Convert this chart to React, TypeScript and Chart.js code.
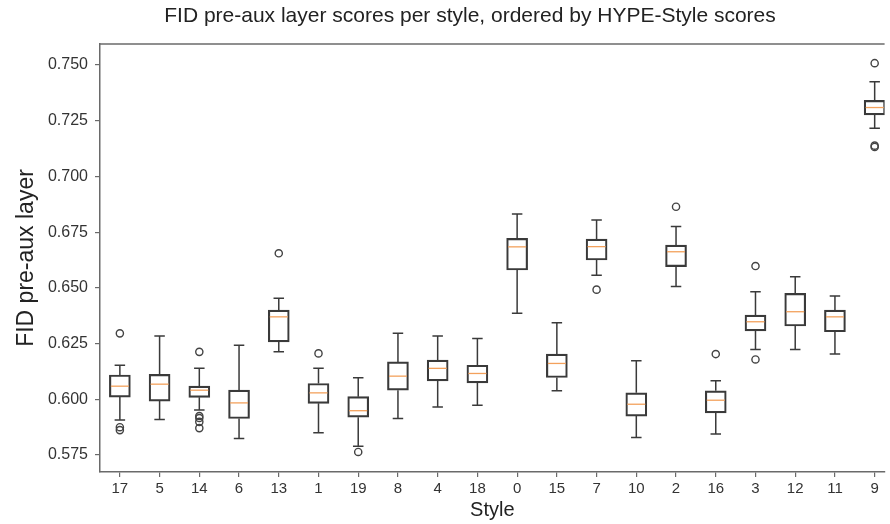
import React, { useEffect, useRef } from 'react';
import { Chart, registerables } from 'chart.js';

Chart.register(...registerables);

const titleText = 'FID pre-aux layer scores per style, ordered by HYPE-Style scores';
const xLabel = 'Style';
const yLabel = 'FID pre-aux layer';

const styles = ['17', '5', '14', '6', '13', '1', '19', '8', '4', '18', '0', '15', '7', '10', '2', '16', '3', '12', '11', '9'];
const whiskerLow = [0.5907, 0.591, 0.5952, 0.5824, 0.6213, 0.585, 0.579, 0.5914, 0.5966, 0.5974, 0.6386, 0.6038, 0.6557, 0.5829, 0.6506, 0.5844, 0.6224, 0.6224, 0.6203, 0.7216];
const q1 = [0.601, 0.5992, 0.6009, 0.5914, 0.6258, 0.5982, 0.592, 0.6041, 0.6083, 0.6074, 0.658, 0.6098, 0.6625, 0.5925, 0.6595, 0.5939, 0.6307, 0.6329, 0.6303, 0.7276];
const median = [0.6059, 0.6068, 0.6041, 0.5984, 0.637, 0.6029, 0.5949, 0.6104, 0.6139, 0.6116, 0.6684, 0.6161, 0.6685, 0.5978, 0.6662, 0.5996, 0.6348, 0.6393, 0.637, 0.7309];
const q3 = [0.6109, 0.6112, 0.6059, 0.6041, 0.64, 0.6071, 0.6012, 0.6168, 0.6176, 0.6153, 0.6722, 0.6203, 0.6719, 0.6029, 0.6692, 0.6038, 0.6378, 0.6475, 0.64, 0.7341];
const whiskerHigh = [0.6153, 0.6284, 0.6139, 0.6243, 0.6453, 0.6139, 0.6097, 0.6296, 0.6284, 0.6273, 0.6831, 0.6343, 0.6804, 0.6173, 0.6775, 0.6083, 0.6483, 0.655, 0.6463, 0.7425];
const outliers: number[][] = [
  [0.6296, 0.5875, 0.5862],
  [],
  [0.6213, 0.5925, 0.5916, 0.5899, 0.5871],
  [],
  [0.6655],
  [0.6206],
  [0.5764],
  [],
  [],
  [],
  [],
  [],
  [0.6492],
  [],
  [0.6864],
  [0.6203],
  [0.6598, 0.6179],
  [],
  [],
  [0.7508, 0.7138, 0.7132],
];
const yTicks = [0.575, 0.6, 0.625, 0.65, 0.675, 0.7, 0.725, 0.75];

const FONT = "'Liberation Sans', Arial, sans-serif";
const EDGE = '#3a3a3a';
const SPINE = '#6a6a6a';
const MEDIAN = '#f3a15c';
const BOX_W = 21;

const boxParts = {
  id: 'boxParts',
  afterDatasetsDraw(chart: any) {
    const { ctx, scales } = chart;
    const x = scales.x;
    const y = scales.y;
    ctx.save();
    styles.forEach((_, i) => {
      const px = x.getPixelForValue(i + 1);
      const capHalf = BOX_W / 4;
      ctx.strokeStyle = EDGE;
      ctx.lineWidth = 1.5;
      ctx.beginPath();
      ctx.moveTo(px, y.getPixelForValue(q3[i]));
      ctx.lineTo(px, y.getPixelForValue(whiskerHigh[i]));
      ctx.moveTo(px, y.getPixelForValue(q1[i]));
      ctx.lineTo(px, y.getPixelForValue(whiskerLow[i]));
      const yh = y.getPixelForValue(whiskerHigh[i]);
      const yl = y.getPixelForValue(whiskerLow[i]);
      ctx.moveTo(px - capHalf, yh);
      ctx.lineTo(px + capHalf, yh);
      ctx.moveTo(px - capHalf, yl);
      ctx.lineTo(px + capHalf, yl);
      ctx.stroke();
      const ym = y.getPixelForValue(median[i]);
      ctx.strokeStyle = MEDIAN;
      ctx.lineWidth = 1.3;
      ctx.beginPath();
      ctx.moveTo(px - BOX_W / 2 + 1.5, ym);
      ctx.lineTo(px + BOX_W / 2 - 1.5, ym);
      ctx.stroke();
    });
    ctx.restore();
  },
  afterDraw(chart: any) {
    const { ctx, chartArea } = chart;
    ctx.save();
    ctx.strokeStyle = SPINE;
    ctx.lineWidth = 1.5;
    ctx.beginPath();
    ctx.moveTo(chartArea.left, chartArea.top);
    ctx.lineTo(chartArea.right, chartArea.top);
    ctx.stroke();
    ctx.fillStyle = '#222';
    ctx.font = `21px ${FONT}`;
    ctx.textAlign = 'center';
    ctx.textBaseline = 'alphabetic';
    ctx.fillText(titleText, 470, 22);
    ctx.restore();
  },
};

export default function App() {
  const ref = useRef<HTMLCanvasElement | null>(null);

  useEffect(() => {
    document.body.style.margin = '0';
    if (!ref.current) return;
    Chart.defaults.font.family = FONT;
    Chart.defaults.color = '#333';

    const boxData = styles.map((_, i) => ({ x: i + 1, y: [q1[i], q3[i]] }));
    const outlierData = styles.flatMap((_, i) => outliers[i].map((v) => ({ x: i + 1, y: v })));

    const chart = new Chart(ref.current, {
      type: 'bar',
      data: {
        datasets: [
          {
            type: 'bar',
            data: boxData as any,
            backgroundColor: 'rgba(255,255,255,0)',
            borderColor: EDGE,
            borderWidth: 1.5,
            borderSkipped: false,
            barThickness: BOX_W,
          } as any,
          {
            type: 'scatter',
            data: outlierData,
            pointStyle: 'circle',
            pointRadius: 3.6,
            pointBorderWidth: 1.4,
            pointBackgroundColor: 'rgba(255,255,255,0)',
            pointBorderColor: '#444',
          } as any,
        ],
      },
      options: {
        animation: false,
        responsive: false,
        devicePixelRatio: 1,
        layout: { padding: { top: 44, left: 0, right: 0, bottom: 0 } },
        plugins: {
          legend: { display: false },
          tooltip: { enabled: false },
          title: { display: false },
        },
        scales: {
          x: {
            type: 'linear',
            min: 0.5,
            max: 20.25,
            offset: false,
            afterBuildTicks: (s: any) => {
              s.ticks = styles.map((_, i) => ({ value: i + 1 }));
            },
            afterFit: (s: any) => {
              s.height = 52;
            },
            ticks: {
              autoSkip: false,
              maxRotation: 0,
              padding: 3,
              font: { size: 15 },
              color: '#333',
              callback: (v: any) => styles[Math.round(Number(v)) - 1] ?? '',
            },
            grid: { drawOnChartArea: false, drawTicks: true, tickLength: 5, color: SPINE, lineWidth: 1.2, offset: false },
            border: { display: true, color: SPINE, width: 1.5 },
            title: { display: true, text: xLabel, font: { size: 20 }, color: '#222', padding: { top: 0, bottom: 2 } },
          },
          y: {
            type: 'linear',
            min: 0.5674,
            max: 0.7594,
            afterBuildTicks: (s: any) => {
              s.ticks = yTicks.map((v) => ({ value: v }));
            },
            afterFit: (s: any) => {
              s.width = 100;
            },
            ticks: {
              padding: 7,
              font: { size: 16 },
              color: '#333',
              callback: (v: any) => Number(v).toFixed(3),
            },
            grid: { drawOnChartArea: false, drawTicks: true, tickLength: 5, color: SPINE, lineWidth: 1.2 },
            border: { display: true, color: SPINE, width: 1.5 },
            title: { display: true, text: yLabel, font: { size: 23 }, color: '#222', padding: { top: 13, bottom: 0 } },
          },
        },
      },
      plugins: [boxParts],
    });

    return () => chart.destroy();
  }, []);

  return (
    <div style={{ width: 890, height: 524 }}>
      <canvas ref={ref} width={890} height={524} style={{ display: 'block' }} />
    </div>
  );
}
